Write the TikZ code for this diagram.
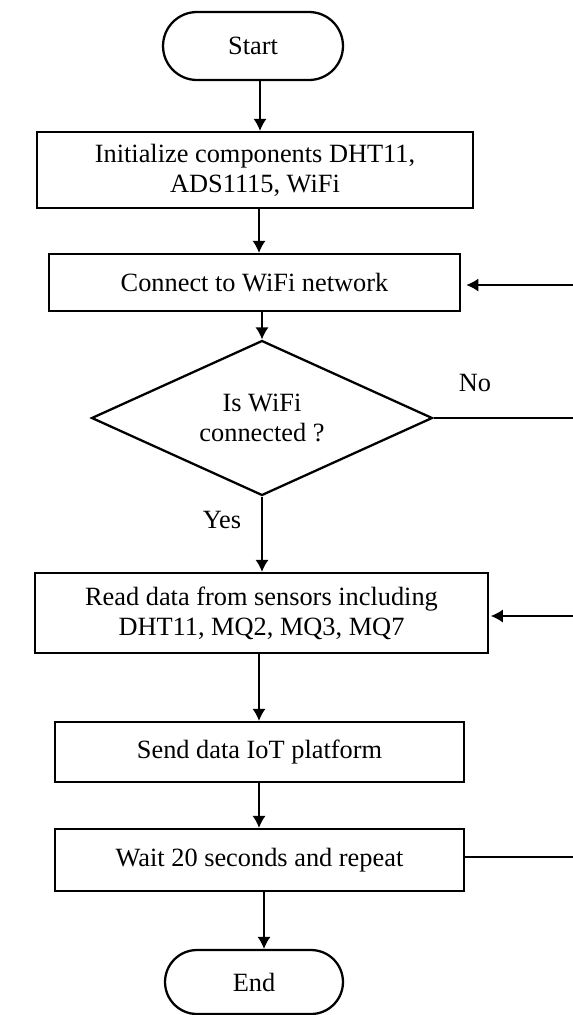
\documentclass[tikz,border=0pt]{standalone}
\usepackage{fontspec}
\setmainfont{Liberation Serif}
\usetikzlibrary{arrows.meta,shapes.geometric,shapes.misc}
\begin{document}
\begin{tikzpicture}[x=0.02cm, y=-0.02cm,
	every node/.style = {font=\fontsize{15}{17}\selectfont},
	box/.style = {draw, line width=1.3pt, align=center, inner sep=0pt},
	term/.style = {draw, line width=1.3pt, rounded rectangle, inner sep=0pt},
	flow/.style = {line width=0.8pt, -{Latex[length=6.8pt,width=7.4pt]}},
	plain/.style = {line width=0.8pt}]
	\useasboundingbox (0,0) rectangle (573,1015);
	\node[term, minimum width=3.6cm, minimum height=1.36cm] (start) at (253,46) {Start};
	\node[box, minimum width=8.72cm, minimum height=1.52cm] (init) at (255,170) {Initialize components DHT11,\\ADS1115, WiFi};
	\node[box, minimum width=8.22cm, minimum height=1.14cm] (conn) at (254.5,282.5) {Connect to WiFi network};
	\node[draw, line width=1.3pt, diamond, aspect=2.2, inner sep=0pt, minimum width=6.82cm, minimum height=3.1cm, align=center] (check) at (262,418) {Is WiFi\\connected ?};
	\node[box, minimum width=9.06cm, minimum height=1.6cm] (read) at (261.5,613) {Read data from sensors including\\DHT11, MQ2, MQ3, MQ7};
	\node[box, minimum width=8.18cm, minimum height=1.2cm] (send) at (259.5,752) {Send data IoT platform};
	\node[box, minimum width=8.18cm, minimum height=1.24cm] (wait) at (259.5,860) {Wait 20 seconds and repeat};
	\node[term, minimum width=3.56cm, minimum height=1.28cm] (end) at (254,982) {End};
	\node (no) at (475,383) {No};
	\node (yes) at (222,520) {Yes};
	\coordinate (connIn) at (573,285);
	\coordinate (noOut) at (573,418);
	\coordinate (readIn) at (573,616);
	\coordinate (waitOut) at (573,857);
	\draw[flow] (start.south -| 260,0) -- (init.north -| 260,0);
	\draw[flow] (init.south -| 259,0) -- (conn.north -| 259,0);
	\draw[flow] (conn.south -| check.north) -- (check.north);
	\draw[flow] (check.south) -- (read.north -| check.south);
	\draw[flow] (read.south -| 259,0) -- (send.north -| 259,0);
	\draw[flow] (send.south -| 259,0) -- (wait.north -| 259,0);
	\draw[flow] (wait.south -| 264,0) -- (end.north -| 264,0);
	\draw[flow, shorten >=3pt] (connIn) -- (connIn -| conn.east);
	\draw[plain] (check.east) -- (noOut);
	\draw[flow, shorten >=1pt] (readIn) -- (readIn -| read.east);
	\draw[plain] (waitOut -| wait.east) -- (waitOut);
\end{tikzpicture}
\end{document}
